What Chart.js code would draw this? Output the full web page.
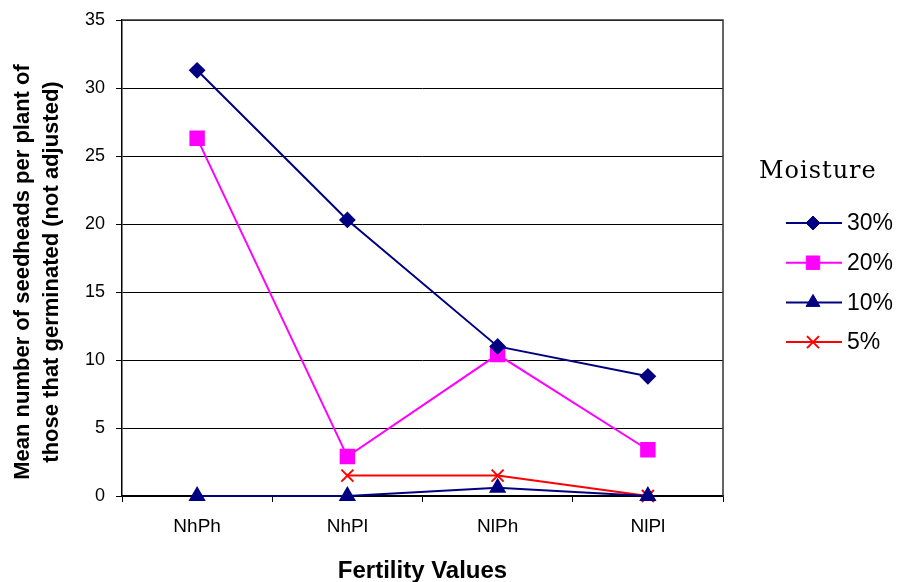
<!DOCTYPE html>
<html>
<head>
<meta charset="utf-8">
<script src="https://cdn.jsdelivr.net/npm/chart.js@4"></script>
<style>
  html, body { margin: 0; padding: 0; background: #fff; }
  #wrap { width: 897px; height: 582px; }
</style>
</head>
<body>
<div id="wrap"><canvas id="seedChart" width="897" height="582"></canvas></div>
<script>
const categories = ['NhPh', 'NhPl', 'NlPh', 'NlPl'];
const moisture30 = [31.3, 20.3, 11.0, 8.8];
const moisture20 = [26.3, 2.9, 10.4, 3.4];
const moisture10 = [0, 0, 0.6, 0];
const moisture5 = [null, 1.5, 1.5, 0];
const yTicks = [0, 5, 10, 15, 20, 25, 30, 35];
const yTitle = ['Mean number of seedheads per plant of', 'those that germinated (not adjusted)'];

const FONT = '"Liberation Sans", Arial, sans-serif';

// Plot frame (top / right edge)
const frame = {
    id: 'frame',
    afterDraw(chart) {
        const a = chart.chartArea;
        const ctx = chart.ctx;
        ctx.save();
        ctx.strokeStyle = '#333';
        ctx.lineWidth = 1.5;
        ctx.beginPath();
        ctx.moveTo(a.left, a.top);
        ctx.lineTo(a.right, a.top);
        ctx.lineTo(a.right, a.bottom);
        ctx.stroke();
        ctx.restore();
    }
};

// Y axis title, two rotated lines
const yAxisTitle = {
    id: 'yAxisTitle',
    afterDraw(chart) {
        const ctx = chart.ctx;
        ctx.save();
        ctx.translate(0, 272);
        ctx.rotate(-Math.PI / 2);
        ctx.fillStyle = '#000';
        ctx.font = 'bold 22px ' + FONT;
        ctx.textAlign = 'center';
        ctx.textBaseline = 'middle';
        ctx.fillText(yTitle[0], 0, 23);
        ctx.fillText(yTitle[1], 0, 52);
        ctx.restore();
    }
};

// Legend drawn like the original: line with marker in the middle
const sideLegend = {
    id: 'sideLegend',
    afterDraw(chart) {
        const ctx = chart.ctx;
        ctx.save();
        ctx.fillStyle = '#000';
        ctx.font = '24px "DejaVu Serif", "Liberation Serif", serif';
        ctx.letterSpacing = '1px';
        ctx.textAlign = 'left';
        ctx.textBaseline = 'middle';
        ctx.fillText('Moisture', 759, 172);
        ctx.letterSpacing = '0px';

        chart.data.datasets.forEach(function(ds, i) {
            const y = 223 + i * 39.7;
            ctx.strokeStyle = ds.borderColor;
            ctx.lineWidth = 2;
            ctx.beginPath();
            ctx.moveTo(786, y);
            ctx.lineTo(842, y);
            ctx.stroke();
            ctx.fillStyle = ds.pointBackgroundColor;
            ctx.strokeStyle = ds.pointBorderColor;
            ctx.lineWidth = ds.pointBorderWidth || 1;
            Chart.helpers.drawPoint(ctx, {
                pointStyle: ds.pointStyle,
                radius: ds.pointRadius,
                rotation: 0,
                borderWidth: ds.pointBorderWidth || 1
            }, 813, y);
            ctx.fillStyle = '#000';
            ctx.font = '23px ' + FONT;
            ctx.fillText(ds.label, 847, y + 1);
        });
        ctx.restore();
    }
};

new Chart(document.getElementById('seedChart'), {
    type: 'line',
    data: {
        labels: categories,
        datasets: [{
            label: '30%',
            data: moisture30,
            borderColor: '#000080',
            pointBackgroundColor: '#000080',
            pointBorderColor: '#000080',
            pointStyle: 'rectRot',
            pointRadius: 7,
            borderWidth: 2,
            clip: false
        }, {
            label: '20%',
            data: moisture20,
            borderColor: '#FF00FF',
            pointBackgroundColor: '#FF00FF',
            pointBorderColor: '#FF00FF',
            pointStyle: 'rect',
            pointRadius: 9.5,
            borderWidth: 2,
            clip: false
        }, {
            label: '10%',
            data: moisture10,
            borderColor: '#000080',
            pointBackgroundColor: '#000080',
            pointBorderColor: '#000080',
            pointStyle: 'triangle',
            pointRadius: 8,
            borderWidth: 2,
            clip: false
        }, {
            label: '5%',
            data: moisture5,
            borderColor: '#FF0000',
            pointBackgroundColor: '#FF0000',
            pointBorderColor: '#FF0000',
            pointStyle: 'crossRot',
            pointRadius: 8.5,
            pointBorderWidth: 2,
            borderWidth: 2,
            clip: false
        }]
    },
    options: {
        responsive: false,
        animation: false,
        layout: { padding: { left: 70, right: 174, top: 19, bottom: 0 } },
        plugins: {
            legend: { display: false },
            tooltip: { enabled: false }
        },
        scales: {
            x: {
                offset: true,
                grid: { offset: true, drawOnChartArea: false, tickLength: 6, color: '#000' },
                border: { color: '#000', width: 1.5 },
                ticks: { color: '#000', font: { family: FONT, size: 19 }, padding: 13 },
                title: {
                    display: true,
                    text: 'Fertility Values',
                    color: '#000',
                    font: { family: FONT, size: 24, weight: 'bold' },
                    padding: { top: 14, bottom: -4 }
                },
                afterFit(scale) { scale.height = 582 - 496; }
            },
            y: {
                min: 0,
                max: 35,
                afterBuildTicks(scale) { scale.ticks = yTicks.map(v => ({ value: v })); },
                grid: { color: '#000', tickLength: 6, lineWidth: 1 },
                border: { color: '#000', width: 1.5 },
                ticks: { color: '#000', font: { family: FONT, size: 18, lineHeight: 1 }, padding: 11 },
                afterFit(scale) { scale.width = 122 - 70; }
            }
        }
    },
    plugins: [frame, yAxisTitle, sideLegend]
});
</script>
</body>
</html>
